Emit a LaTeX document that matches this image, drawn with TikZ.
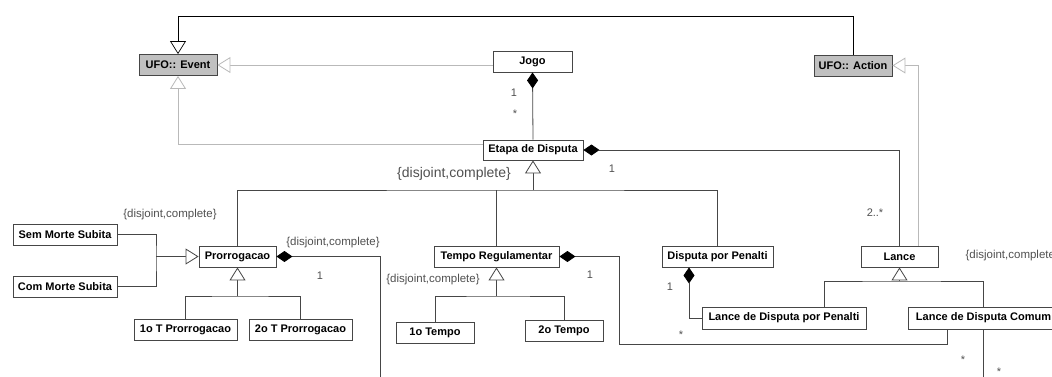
\documentclass[tikz,border=0pt]{standalone}
\usepackage{fontspec}
\setsansfont{Liberation Sans}
\usetikzlibrary{arrows.meta}
\definecolor{umlline}{RGB}{70,70,70}
\definecolor{umllight}{RGB}{185,185,185}
\definecolor{ufogray}{RGB}{192,192,192}
\definecolor{lblgray}{RGB}{80,80,80}
\tikzset{
  classbox/.style={draw=umlline, line width=0.9pt, fill=white, inner sep=0pt,
    minimum height=21pt, font=\sffamily\bfseries\fontsize{11}{13}\selectfont},
  ufobox/.style={classbox, fill=ufogray},
  assoc/.style={draw=umlline, line width=0.8pt},
  gen/.style={assoc, -{Triangle[open, length=13pt, width=16pt, fill=white]}},
  lightgen/.style={draw=umllight, line width=0.8pt,
    -{Triangle[open, length=13pt, width=16pt, fill=white]}},
  comp/.style={assoc, {Diamond[length=16pt, width=11pt, color=black]}-},
  mult/.style={font=\sffamily\fontsize{11}{13}\selectfont, text=lblgray},
  constr/.style={font=\sffamily\fontsize{11.5}{13}\selectfont, text=lblgray},
}
\begin{document}
\begin{tikzpicture}[x=1pt, y=-1pt]
    \clip (0,0) rectangle (1052,376);

    % --- UFO classes ---
    \node[ufobox, minimum width=78pt] (event) at (178,65) {UFO:: Event};
    \node[ufobox, minimum width=78pt] (action) at (853,65.5) {UFO:: Action};

    % --- game and stages ---
    \node[classbox, minimum width=79pt] (jogo) at (532.5,61.5) {Jogo};
    \node[classbox, minimum width=100pt, minimum height=20pt] (etapa) at (533,150) {Etapa de Disputa};
    \node[classbox, minimum width=77pt] (prorr) at (237.5,256.5) {Prorrogacao};
    \node[classbox, minimum width=125pt] (tempo) at (496.5,256.5) {Tempo Regulamentar};
    \node[classbox, minimum width=111pt] (penalti) at (717.5,256.5) {Disputa por Penalti};
    \node[classbox, minimum width=77pt] (lance) at (899.5,256.5) {Lance};

    % --- sub classes ---
    \node[classbox, minimum width=104pt] (sem) at (65,234.5) {Sem Morte Subita};
    \node[classbox, minimum width=104pt] (com) at (65,286.5) {Com Morte Subita};
    \node[classbox, minimum width=103pt] (tprorr1) at (185.5,329.5) {1o T Prorrogacao};
    \node[classbox, minimum width=103pt] (tprorr2) at (300.5,329.5) {2o T Prorrogacao};
    \node[classbox, minimum width=78pt] (tempo1) at (435,332.5) {1o Tempo};
    \node[classbox, minimum width=78pt] (tempo2) at (564,330.5) {2o Tempo};
    \node[classbox, minimum width=164pt, minimum height=22pt] (ldpp) at (784,318) {Lance de Disputa por Penalti};
    \node[classbox, minimum width=151pt, minimum height=22pt] (ldc) at (983.5,318) {Lance de Disputa Comum};

    % --- bus points ---
    \coordinate (etapabus) at (533,190);
    \coordinate (morte) at (156,256.5);
    \coordinate (prorrbus) at (237.5,296);
    \coordinate (tempobus) at (496.5,296);
    \coordinate (lancebus) at (899.5,281);
    \coordinate (prorrout) at (380,380);
    \coordinate (tempoturn) at (619,344);
    \coordinate (ldcout) at (983.5,380);

    % --- UFO generalizations ---
    \draw[gen, draw=black, line width=0.7pt] (action.north) -- (853,16) -| (event.north);
    \draw[lightgen] (jogo.west |- event.east) -- (event.east);
    \draw[lightgen] ([yshift=6pt]etapa.west) -| (event.south);
    \draw[lightgen] ([xshift=18.5pt]lance.north) |- (action.east);

    % --- compositions ---
    \draw[comp] (jogo.south) -- (etapa.north);
    \draw[comp] (etapa.east) -| (lance.north);
    \draw[comp] (prorr.east) -| (prorrout);
    \draw[comp] (tempo.east) -| (tempoturn) -| ([xshift=-36.5pt]ldc.south);
    \draw[comp] ([xshift=-28.5pt]penalti.south) |- (ldpp.west);
    \draw[assoc] (ldc.south) -- (ldcout);

    % --- generalization sets ---
    \draw[gen] (etapabus) -- (etapa.south);
    \draw[assoc] (prorr.north) |- (etapabus) -| (penalti.north);
    \draw[assoc] (tempo.north) -- (tempo.north |- etapabus);

    \draw[gen] (morte) -- (prorr.west);
    \draw[assoc] (sem.east) -| (morte) |- (com.east);

    \draw[gen] (prorrbus) -- (prorr.south);
    \draw[assoc] (tprorr1.north) |- (prorrbus) -| (tprorr2.north);

    \draw[gen] (tempobus) -- (tempo.south);
    \draw[assoc] (tempo1.north) |- (tempobus) -| (tempo2.north);

    \draw[gen] (lancebus) -- (lance.south);
    \draw[assoc] ([xshift=40pt]ldpp.north) |- (lancebus) -| (ldc.north);

    % --- multiplicities ---
    \node[mult] (mjogo) at (514,93) {1};
    \node[mult] (metapa) at (515,114) {*};
    \node[mult] (metapalance) at (612,169) {1};
    \node[mult] (mlance) at (875,213) {2..*};
    \node[mult] (mprorr) at (320,276) {1};
    \node[mult] (mtempo) at (590,275) {1};
    \node[mult] (mtempoldc) at (681,335) {*};
    \node[mult] (mpenalti) at (670,287) {1};
    \node[mult] (mldc1) at (963,360) {*};
    \node[mult] (mldc2) at (999,372) {*};

    % --- constraints ---
    \node[constr, font=\sffamily\fontsize{14}{16}\selectfont] (cetapa) at (454,174) {\{disjoint,complete\}};
    \node[constr] (cmorte) at (170,215) {\{disjoint,complete\}};
    \node[constr] (cprorr) at (333,243) {\{disjoint,complete\}};
    \node[constr] (ctempo) at (433,280) {\{disjoint,complete\}};
    \node[constr, anchor=west] (clance) at (962,256) {\{disjoint,complete\}};
\end{tikzpicture}
\end{document}
